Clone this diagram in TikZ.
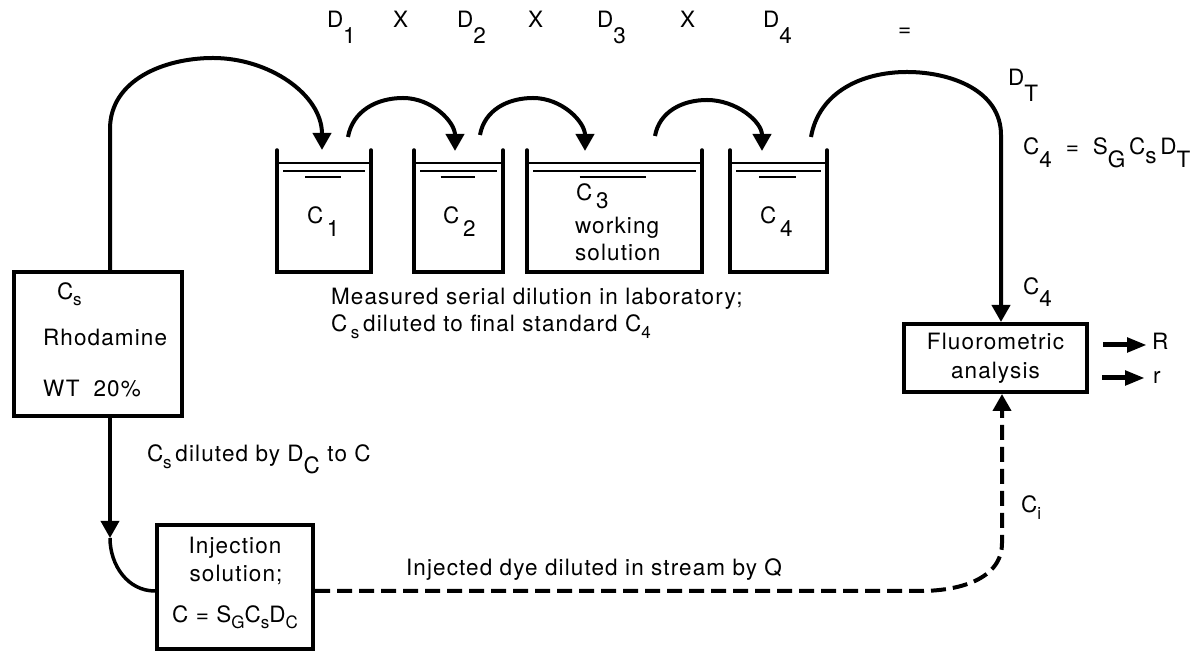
\documentclass[tikz,border=0pt]{standalone}
\usepackage{fontspec}
\setmainfont{TeX Gyre Heros}[LetterSpace=5]
\usetikzlibrary{arrows.meta,calc}
\newcommand\lo[2][0.6em]{\raisebox{-#1}{#2}}
\newcommand\ls[2][0.25em]{\raisebox{-#1}{\fontsize{17}{17}\selectfont #2}}
\begin{document}
\begin{tikzpicture}[x=1pt,y=1pt,
  every node/.style={font=\fontsize{22.5}{29}\selectfont, inner sep=0pt, outer sep=0pt},
  box/.style={draw, line width=3.5pt},
  wall/.style={line width=3.5pt, line cap=round},
  conn/.style={line width=4pt},
  arr/.style={-{Triangle[length=17pt,width=18pt]}},
  smallarr/.style={line width=5pt,-{Triangle[length=20pt,width=14pt]}},
  dashline/.style={line width=4pt, dash pattern=on 15pt off 7pt},
  txt/.style={anchor=base west},
  ctxt/.style={anchor=base}]
\fill[white] (0,0) rectangle (1202,655);
\useasboundingbox (0,0) rectangle (1202,655);

% boxes
\node[box, minimum width=168pt, minimum height=144pt] (rho) at (98,311) {};
\node[box, minimum width=156pt, minimum height=124pt] (inj) at (235,68) {};
\node[box, minimum width=183pt, minimum height=68pt, align=center] (flu) at (995.5,297) {Fluorometric\\analysis};

% beakers
\node[minimum width=94pt, minimum height=122pt] (bk1) at (324,444) {};
\node[minimum width=89pt, minimum height=122pt] (bk2) at (458.5,444) {};
\node[minimum width=175pt, minimum height=122pt] (bk3) at (614.5,444) {};
\node[minimum width=97pt, minimum height=122pt] (bk4) at (778.5,444) {};
\foreach \b in {bk1,bk2,bk3,bk4}{
  \draw[wall] (\b.north west) -- (\b.south west) -- (\b.south east) -- (\b.north east);
  \draw[line width=2pt] ($(\b.north west)+(0,-13)$) -- ($(\b.north east)+(0,-13)$);
  \draw[line width=1.5pt] ($(\b.north west)+(6,-21)$) -- ($(\b.north east)+(-6,-21)$);
  \draw[line width=1.5pt] ($(\b.north west)!0.3!(\b.north east)+(0,-27)$) -- ($(\b.north west)!0.68!(\b.north east)+(0,-27)$);
}

% top row
\node[txt] (d1) at (327,627) {D\lo[0.7em]{1}};
\node[txt] (x1) at (393,627) {X};
\node[txt] (d2) at (457,627) {D\lo[0.7em]{2}};
\node[txt] (x2) at (528,627) {X};
\node[txt] (d3) at (597,627) {D\lo[0.7em]{3}};
\node[txt] (x3) at (680,627) {X};
\node[txt] (d4) at (763,627) {D\lo[0.7em]{4}};
\node[txt] (eq) at (898,618) {=};

% beaker labels
\node[txt] (lc1) at (307,431) {C\,\lo[0.55em]{1}};
\node[txt] (lc2) at (443,431) {C\,\lo[0.55em]{2}};
\node[txt] (lc3) at (576,454) {C\,\lo[0.35em]{3}};
\node[txt] (lw) at (575,421) {working};
\node[txt] (ls) at (575,394) {solution};
\node[txt] (lc4) at (760,431) {C\,\lo[0.55em]{4}};

\node[txt] (m1) at (331,350) {Measured serial dilution in laboratory;};
\node[txt] (m2) at (331,323) {C\,\ls[0.3em]{s}\,diluted to final standard C\ls[0.3em]{4}};

% rhodamine texts
\node[txt] (rcs) at (57,355) {C\ls{s}};
\node[txt] (rn) at (43,309) {Rhodamine};
\node[txt] (rwt) at (43,258) {WT\hspace{14pt}20\%};

\node[txt] (cdil) at (147,193) {C\ls[0.3em]{s}\,diluted by D\lo[0.5em]{C} to C};

% injection texts
\node[ctxt] (i1) at (235,101) {Injection};
\node[ctxt] (i2) at (236,73) {solution;};
\node[ctxt] (i3) at (235,32) {C = S\ls{G}C\ls{s}D\ls{C}};

\node[txt] (inq) at (406,79) {Injected dye diluted in stream by Q};

% right side labels
\node[txt] (dt) at (1008,569) {D\lo[0.7em]{T}};
\node[txt] (eqn) at (1023,500) {C\lo[0.55em]{4}\hspace{14pt}=\hspace{14pt}S\lo[0.55em]{G}\,C\lo[0.4em]{s}\,D\lo[0.55em]{T}};
\node[txt] (c4f) at (1023,360) {C\lo[0.5em]{4}};
\node[txt] (ci) at (1021,142) {C\ls[0.3em]{i}};
\node[txt] (rR) at (1152,305) {R};
\node[txt] (rr) at (1153,271) {r};

% coordinates
\coordinate (a0s) at (110,383);
\coordinate (a0e) at (322,505);
\coordinate (a1s) at (348,518);
\coordinate (a1e) at (455,504);
\coordinate (a2s) at (480,520);
\coordinate (a2e) at (585,504);
\coordinate (a3s) at (655,519);
\coordinate (a3e) at (762,504);
\coordinate (a4s) at (811,518);
\coordinate (fluin) at (1001,333);
\coordinate (rhoout) at (110,237);
\coordinate (dtip) at (110,117);
\coordinate (injin) at (155,64);
\coordinate (injout) at (315,64);
\coordinate (fluin2) at (1002,261);
\coordinate (ro1) at (1103,310);
\coordinate (ro1e) at (1147,310);
\coordinate (ro2) at (1102,277);
\coordinate (ro2e) at (1145,277);

% connectors
\draw[conn,arr] (a0s) -- (110,526) to[out=90,in=180] (213,597) to[out=0,in=90] (a0e);
\draw[conn,arr] (a1s) to[out=80,in=180] (403,557) to[out=0,in=90] (a1e);
\draw[conn,arr] (a2s) to[out=80,in=180] (533,557) to[out=0,in=90] (a2e);
\draw[conn,arr] (a3s) to[out=80,in=180] (707,555) to[out=0,in=90] (a3e);
\draw[conn,arr] (a4s) to[out=80,in=180] (907,583) to[out=0,in=90] (1001,520) -- (fluin);
\draw[line width=3.5pt,arr] (rhoout) -- (dtip);
\draw[line width=3.5pt] (dtip) to[out=-90,in=180] (injin);
\draw[dashline,arr] (injout) -- (920,64) to[out=0,in=-90] (1002,112) -- (fluin2);
\draw[smallarr] (ro1) -- (ro1e);
\draw[smallarr] (ro2) -- (ro2e);
\end{tikzpicture}
\end{document}
